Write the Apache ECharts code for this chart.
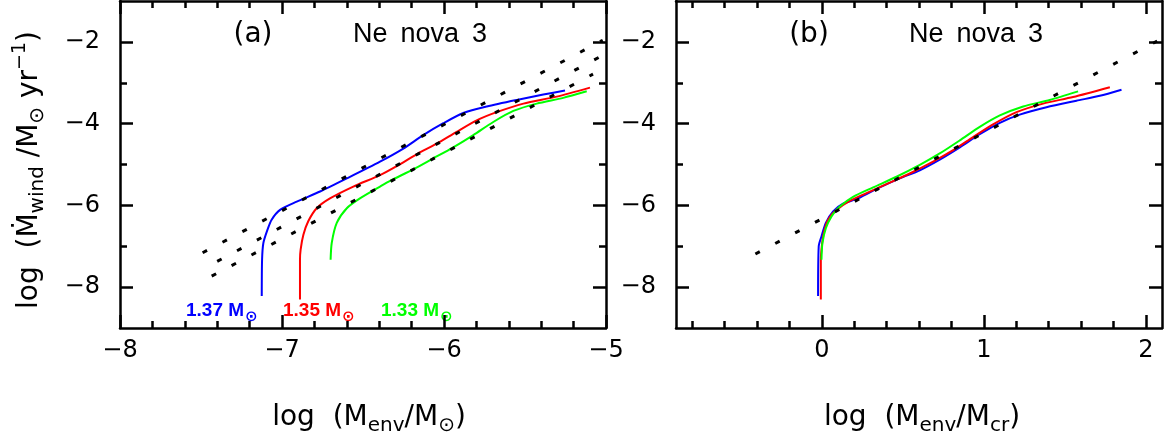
<!DOCTYPE html>
<html><head><meta charset="utf-8">
<script src="https://cdn.jsdelivr.net/npm/echarts@6/dist/echarts.min.js"></script>
<style>html,body{margin:0;padding:0;background:#fff}#c{width:1166px;height:436px}</style>
</head><body><div id="c"></div>
<script>
// ---------- data ----------
// panel (a): log(Menv/Msun) vs log(Mdot_wind)
const blueA = [[-7.125,-8.22],[-7.123,-7.33],[-7.115,-6.92],[-7.09,-6.60],[-7.064,-6.35],[-7.012,-6.11],[-6.909,-5.91],[-6.765,-5.66],[-6.60,-5.34],[-6.395,-4.93],[-6.251,-4.61],[-6.128,-4.28],[-6.004,-3.99],[-5.881,-3.74],[-5.736,-3.58],[-5.551,-3.42],[-5.387,-3.29],[-5.253,-3.19]];
const redA = [[-6.889,-8.30],[-6.889,-7.33],[-6.885,-7.08],[-6.868,-6.72],[-6.838,-6.39],[-6.786,-6.07],[-6.704,-5.83],[-6.56,-5.54],[-6.395,-5.26],[-6.292,-5.04],[-6.169,-4.75],[-6.045,-4.49],[-5.922,-4.20],[-5.798,-3.92],[-5.675,-3.72],[-5.51,-3.51],[-5.304,-3.34],[-5.099,-3.12]];
const greenA = [[-6.70,-7.33],[-6.693,-6.92],[-6.662,-6.43],[-6.60,-6.07],[-6.519,-5.83],[-6.395,-5.54],[-6.333,-5.40],[-6.19,-5.12],[-6.066,-4.85],[-5.943,-4.58],[-5.819,-4.28],[-5.696,-3.96],[-5.572,-3.69],[-5.428,-3.51],[-5.264,-3.37],[-5.119,-3.21]];
const dotA1 = [[-7.49,-7.16],[-5.02,-1.96]];
const dotA2 = [[-7.40,-7.37],[-5.04,-2.37]];
const dotA3 = [[-7.434,-7.73],[-5.08,-2.79]];
// panel (b): log(Menv/Mcr) vs log(Mdot_wind)
const blueB = [[-0.023,-8.22],[-0.019,-7.0],[-0.002,-6.76],[0.025,-6.43],[0.07,-6.15],[0.131,-5.96],[0.224,-5.83],[0.348,-5.58],[0.481,-5.34],[0.605,-5.14],[0.728,-4.88],[0.852,-4.58],[0.975,-4.26],[1.099,-3.98],[1.222,-3.78],[1.387,-3.60],[1.572,-3.44],[1.716,-3.32],[1.85,-3.17]];
const redB = [[-0.006,-8.30],[-0.006,-7.33],[0.0,-7.0],[0.012,-6.68],[0.039,-6.35],[0.091,-6.11],[0.173,-5.89],[0.276,-5.70],[0.399,-5.48],[0.543,-5.22],[0.687,-4.93],[0.811,-4.65],[0.934,-4.33],[1.057,-4.02],[1.202,-3.72],[1.366,-3.51],[1.551,-3.35],[1.778,-3.11]];
const greenB = [[-0.002,-7.33],[0.004,-6.92],[0.025,-6.56],[0.06,-6.27],[0.111,-6.03],[0.193,-5.79],[0.317,-5.56],[0.461,-5.30],[0.605,-5.01],[0.728,-4.73],[0.852,-4.41],[0.975,-4.08],[1.099,-3.80],[1.243,-3.58],[1.407,-3.42],[1.582,-3.21]];
const dotB = [[-0.41,-7.19],[2.07,-1.98]];

// axes / ticks
const xRangeA = [-8, -5];
const xRangeB = [-0.9, 2.1];
const yRange = [-9, -1];
const xMajorA = [-8, -7, -6, -5];
const xMinorA = [-7.8,-7.6,-7.4,-7.2,-6.8,-6.6,-6.4,-6.2,-5.8,-5.6,-5.4,-5.2];
const xMajorB = [0, 1, 2];
const xMinorB = [-0.8,-0.6,-0.4,-0.2,0.2,0.4,0.6,0.8,1.2,1.4,1.6,1.8,2.0];
const yMajor = [-8, -6, -4, -2];
const yMinor = [-7, -5, -3];
const massLabels = ['1.37', '1.35', '1.33'];

// ---------- chart ----------
const FF = "'DejaVu Sans', sans-serif";
const LF = "'Liberation Sans', 'DejaVu Sans', sans-serif";
const COLORS = { blue: '#0000ff', red: '#ff0000', green: '#00ff00' };
const fmt = v => (v < 0 ? '\u2212' : '') + String(Math.abs(Math.round(v * 10) / 10));

const xAxes = [], yAxes = [];
function addAxes(list, dim, grid, range, pos, majors, minors, showLabel) {
  const base = {
    type: 'value', gridIndex: grid, min: range[0], max: range[1], position: pos,
    splitLine: { show: false }, splitArea: { show: false }, minorTick: { show: false }
  };
  const idx = list.length;
  list.push(Object.assign({}, base, {
    axisLine: { show: true, onZero: false, lineStyle: { color: '#000', width: 2.5 } },
    axisTick: { show: true, inside: true, length: 13, customValues: majors, lineStyle: { color: '#000', width: 2.5 } },
    axisLabel: showLabel ? {
      show: true, customValues: majors, formatter: fmt, color: '#000', fontSize: 24, fontFamily: FF,
      margin: dim === 'x' ? 11 : 20, showMinLabel: true, showMaxLabel: true
    } : { show: false }
  }));
  list.push(Object.assign({}, base, {
    axisLine: { show: false, onZero: false },
    axisTick: { show: true, inside: true, length: 7, customValues: minors, lineStyle: { color: '#000', width: 2.5 } },
    axisLabel: { show: false }
  }));
  return idx;
}
const xa = addAxes(xAxes, 'x', 0, xRangeA, 'bottom', xMajorA, xMinorA, true);
addAxes(xAxes, 'x', 0, xRangeA, 'top', xMajorA, xMinorA, false);
const xb = addAxes(xAxes, 'x', 1, xRangeB, 'bottom', xMajorB, xMinorB, true);
addAxes(xAxes, 'x', 1, xRangeB, 'top', xMajorB, xMinorB, false);
const ya = addAxes(yAxes, 'y', 0, yRange, 'left', yMajor, yMinor, true);
addAxes(yAxes, 'y', 0, yRange, 'right', yMajor, yMinor, false);
const yb = addAxes(yAxes, 'y', 1, yRange, 'left', yMajor, yMinor, true);
addAxes(yAxes, 'y', 1, yRange, 'right', yMajor, yMinor, false);

function curve(data, color, xi, yi) {
  return { type: 'line', data, xAxisIndex: xi, yAxisIndex: yi, smooth: 0.25, symbol: 'none', showSymbol: false,
    lineStyle: { color, width: 2 }, silent: true, z: 2 };
}
function dotted(data, xi, yi) {
  return { type: 'line', data, xAxisIndex: xi, yAxisIndex: yi, symbol: 'none', showSymbol: false,
    lineStyle: { color: '#000', width: 3, type: [5, 17.5], cap: 'butt' }, silent: true, z: 3 };
}

const main = { fontSize: 28, fontFamily: FF, lineHeight: 32 };
const sub = { fontSize: 20, fontFamily: FF, lineHeight: 22, padding: [16, 0, 0, 0] };
const sup = { fontSize: 19, fontFamily: FF, lineHeight: 22, padding: [0, 0, 20, 0] };
function txt(x, y, text, rich, font, extra) {
  return Object.assign({ type: 'text', x, y, silent: true, style: {
    text, rich, fill: '#000', font: font || ('28px ' + FF), textAlign: 'center', textVerticalAlign: 'middle',
    align: 'center', verticalAlign: 'middle'
  } }, extra || {});
}
function massText(x, label, color) {
  const r = {
    n: { fontSize: 19, fontWeight: 'bold', fontFamily: LF, color, lineHeight: 22 },
    s: { fontSize: 15, fontWeight: 'bold', fontFamily: FF, color, lineHeight: 16, padding: [12, 0, 0, 1] }
  };
  return { type: 'text', x, y: 311, silent: true, style: {
    text: '{n|' + label + ' M}{s|\u2299}', rich: r, fill: color, textAlign: 'left', textVerticalAlign: 'middle',
    align: 'left', verticalAlign: 'middle' } };
}

const option = {
  animation: false,
  backgroundColor: '#fff',
  grid: [
    { left: 120, top: 1, width: 486, height: 327, containLabel: false },
    { left: 676, top: 1, width: 486, height: 327, containLabel: false }
  ],
  xAxis: xAxes,
  yAxis: yAxes,
  series: [
    curve(blueA, COLORS.blue, xa, ya), curve(redA, COLORS.red, xa, ya), curve(greenA, COLORS.green, xa, ya),
    dotted(dotA1, xa, ya), dotted(dotA2, xa, ya), dotted(dotA3, xa, ya),
    curve(blueB, COLORS.blue, xb, yb), curve(redB, COLORS.red, xb, yb), curve(greenB, COLORS.green, xb, yb),
    dotted(dotB, xb, yb)
  ],
  graphic: [
    txt(253, 35, '(a)', null, '28px ' + FF),
    txt(420, 35, 'Ne \u2009nova \u20093', null, '27px ' + LF),
    txt(809, 35, '(b)', null, '28px ' + FF),
    txt(976, 35, 'Ne \u2009nova \u20093', null, '27px ' + LF),
    txt(369, 418, '{m|log  (M}{s|env}{m|/M}{s|\u2299}{m|)}', { m: main, s: sub }),
    txt(922, 418, '{m|log  (M}{s|env}{m|/M}{s|cr}{m|)}', { m: main, s: sub }),
    txt(30, 170, '{m|log  (\u1E40}{s|wind}{m| /M}{s|\u2299}{m| yr}{p|\u22121}{m|)}', { m: main, s: sub, p: sup }, null, { rotation: Math.PI / 2 }),
    massText(186, massLabels[0], COLORS.blue),
    massText(283, massLabels[1], COLORS.red),
    massText(381, massLabels[2], COLORS.green)
  ]
};
const chart = echarts.init(document.getElementById('c'), null, { renderer: 'canvas' });
chart.setOption(option);
</script></body></html>
